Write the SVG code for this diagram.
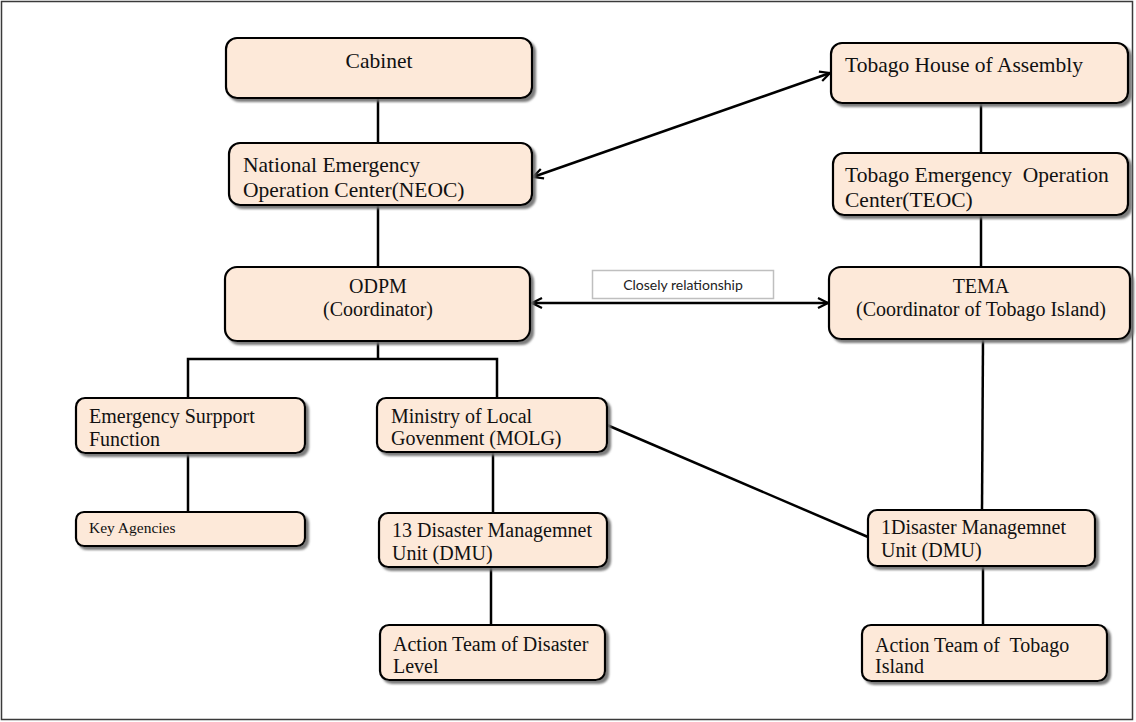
<svg xmlns="http://www.w3.org/2000/svg" width="1136" height="722" viewBox="0 0 1136 722">
<defs>
<filter id="sh" x="-10%" y="-10%" width="130%" height="140%">
<feDropShadow dx="3" dy="3" stdDeviation="1.2" flood-color="#6e6e6e" flood-opacity="0.9"/>
</filter>
<marker id="ah" viewBox="0 0 12 12" refX="11" refY="6" markerWidth="12" markerHeight="12" markerUnits="userSpaceOnUse" orient="auto-start-reverse">
<path d="M1,1 L11,6 L1,11" fill="none" stroke="#000" stroke-width="2.2" stroke-linejoin="miter"/>
</marker>
</defs>
<style>
.box{fill:#FDE9D9;stroke:#000;stroke-width:2.2;filter:url(#sh)}
.t{font-family:"Liberation Serif","Times New Roman",serif;font-size:20px;fill:#111}
.tl{font-size:21.5px}
.ts{font-size:15.5px}
.c{text-anchor:middle}
.ln{stroke:#000;stroke-width:2.5;fill:none}
.arr{stroke:#000;stroke-width:2.5;fill:none;marker-start:url(#ah);marker-end:url(#ah)}
.lbl{font-family:Lato,"Liberation Sans",sans-serif;font-size:14px;text-anchor:middle;fill:#222}
</style>
<rect x="1.5" y="1.5" width="1131" height="718" fill="#fff" stroke="#3a3a3a" stroke-width="1.5"/>
<g id="connectors">
<line class="ln" x1="378" y1="98" x2="378" y2="143"/>
<line class="ln" x1="378" y1="205" x2="378" y2="267"/>
<polyline class="ln" points="378,341 378,359"/>
<polyline class="ln" points="188,398 188,359 497,359 497,398"/>
<line class="ln" x1="188" y1="453" x2="188" y2="512"/>
<line class="ln" x1="493" y1="452" x2="493" y2="513"/>
<line class="ln" x1="491" y1="567" x2="491" y2="625"/>
<line class="ln" x1="981" y1="103" x2="981" y2="153"/>
<line class="ln" x1="981" y1="215" x2="981" y2="267"/>
<line class="ln" x1="983" y1="339" x2="982" y2="510"/>
<line class="ln" x1="983" y1="566" x2="983" y2="625"/>
<line class="ln" x1="607" y1="425" x2="868" y2="537"/>
<line class="arr" x1="533" y1="177" x2="830" y2="73"/>
<line class="arr" x1="532" y1="303" x2="828" y2="303"/>
</g>
<g id="label-closely">
<rect x="592.5" y="270.5" width="181" height="28" fill="#fff" stroke="#bfbfbf" stroke-width="1.5"/>
<text class="lbl" x="683" y="290">Closely relationship</text>
</g>
<g id="cabinet">
<rect class="box" x="226" y="38" width="306" height="60" rx="11"/>
<text class="t tl c" x="379" y="68">Cabinet</text>
</g>
<g id="neoc">
<rect class="box" x="229" y="143" width="303" height="62" rx="11"/>
<text class="t tl" x="243" y="172">National Emergency</text>
<text class="t tl" x="243" y="197">Operation Center(NEOC)</text>
</g>
<g id="odpm">
<rect class="box" x="225" y="267" width="305" height="74" rx="12"/>
<text class="t c" x="378" y="293">ODPM</text>
<text class="t c" x="378" y="316">(Coordinator)</text>
</g>
<g id="esf">
<rect class="box" x="76" y="398" width="229" height="55" rx="9"/>
<text class="t" x="89" y="423">Emergency Surpport</text>
<text class="t" x="89" y="446">Function</text>
</g>
<g id="key-agencies">
<rect class="box" x="76" y="512" width="229" height="34" rx="8"/>
<text class="t ts" x="89" y="533">Key Agencies</text>
</g>
<g id="molg">
<rect class="box" x="377" y="398" width="230" height="54" rx="9"/>
<text class="t" x="391" y="423">Ministry of Local</text>
<text class="t" x="391" y="445">Govenment (MOLG)</text>
</g>
<g id="dmu13">
<rect class="box" x="379" y="513" width="228" height="54" rx="9"/>
<text class="t" x="392" y="537">13 Disaster Managemnet</text>
<text class="t" x="392" y="560">Unit (DMU)</text>
</g>
<g id="action-disaster">
<rect class="box" x="380" y="625" width="225" height="55" rx="9"/>
<text class="t" x="393" y="651">Action Team of Disaster</text>
<text class="t" x="393" y="673">Level</text>
</g>
<g id="tha">
<rect class="box" x="831" y="43" width="297" height="60" rx="11"/>
<text class="t tl" x="845" y="72">Tobago House of Assembly</text>
</g>
<g id="teoc">
<rect class="box" x="833" y="153" width="295" height="62" rx="11"/>
<text class="t tl" x="845" y="182" xml:space="preserve">Tobago Emergency  Operation</text>
<text class="t tl" x="845" y="207">Center(TEOC)</text>
</g>
<g id="tema">
<rect class="box" x="829" y="267" width="301" height="72" rx="12"/>
<text class="t c" x="981" y="293">TEMA</text>
<text class="t c" x="981" y="316">(Coordinator of Tobago Island)</text>
</g>
<g id="dmu1">
<rect class="box" x="868" y="510" width="227" height="56" rx="9"/>
<text class="t" x="881" y="534">1Disaster Managemnet</text>
<text class="t" x="881" y="557">Unit (DMU)</text>
</g>
<g id="action-tobago">
<rect class="box" x="862" y="625" width="245" height="56" rx="9"/>
<text class="t" x="875" y="652" xml:space="preserve">Action Team of  Tobago</text>
<text class="t" x="875" y="673">Island</text>
</g>
</svg>
